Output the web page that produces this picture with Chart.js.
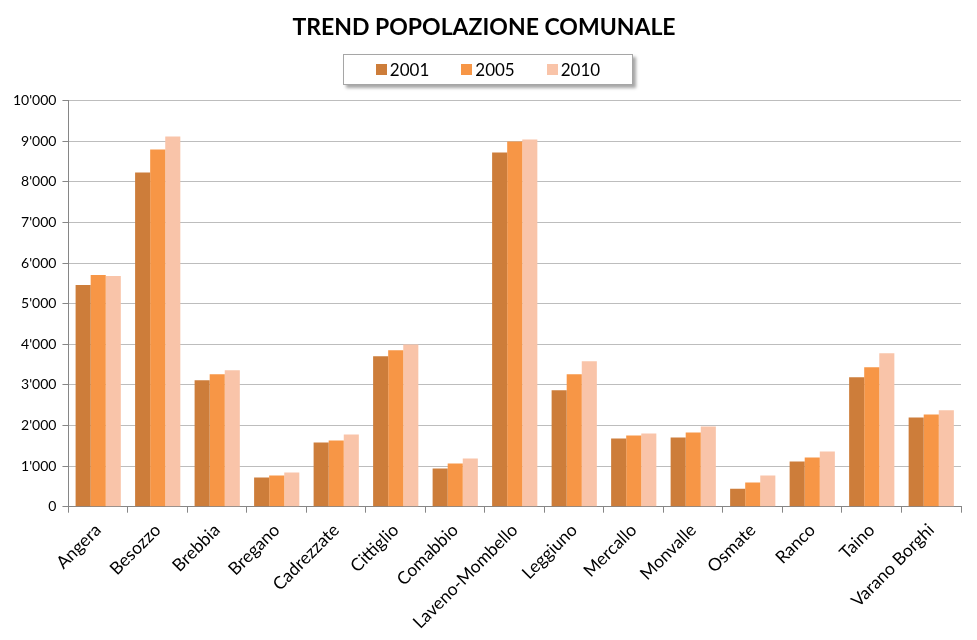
<!DOCTYPE html>
<html><head><meta charset="utf-8">
<script src="https://cdn.jsdelivr.net/npm/chart.js@4"></script>
<style>
html,body{margin:0;padding:0;background:#fff}
#wrap{position:relative;width:977px;height:640px}
#legend{position:absolute;left:343px;top:54px;width:288px;height:29px;border:1px solid #a6a6a6;background:#fff;
box-shadow:3px 3px 3px rgba(0,0,0,0.35);display:flex;align-items:center;justify-content:center;font-family:Lato,sans-serif;font-size:17px;color:#000}
.item{display:flex;align-items:center;margin:0 16px}
.sw{width:11px;height:11px;margin-right:3px}
</style>
</head><body><div id="wrap"><canvas id="c"></canvas><div id="legend"></div></div>
<script>
const categories = ['Angera','Besozzo','Brebbia','Bregano','Cadrezzate','Cittiglio','Comabbio','Laveno-Mombello','Leggiuno','Mercallo','Monvalle','Osmate','Ranco','Taino','Varano Borghi'];
const seriesNames = ['2001','2005','2010'];
const values2001 = [5461,8228,3113,717,1581,3706,939,8722,2866,1680,1705,445,1112,3187,2198];
const values2005 = [5708,8797,3262,766,1631,3855,1062,8994,3262,1754,1829,593,1211,3434,2273];
const values2010 = [5683,9118,3360,840,1779,3995,1186,9043,3583,1804,1977,766,1359,3780,2372];
const yTicks = [0,1000,2000,3000,4000,5000,6000,7000,8000,9000,10000];
const colors = ['#CD7D3A','#F79646','#F9C4A9'];

const allValues = [values2001, values2005, values2010];
const datasets = seriesNames.map((n,i)=>({label:n,data:allValues[i],backgroundColor:colors[i],borderWidth:0,
  categoryPercentage:0.76,barPercentage:1.0}));

const lg = document.getElementById('legend');
seriesNames.forEach((n,i)=>{
  const d=document.createElement('div');d.className='item';
  d.innerHTML='<span class="sw" style="background:'+colors[i]+'"></span><span>'+n+'</span>';
  lg.appendChild(d);
});

const fmt = v => { const s = String(v); return s.replace(/\B(?=(\d{3})+(?!\d))/g, "'"); };

new Chart(document.getElementById('c'), {
  type:'bar',
  data:{labels:categories,datasets},
  options:{
    responsive:true,maintainAspectRatio:false,animation:false,
    layout:{padding:{left:7,right:16,top:0,bottom:0}},
    plugins:{
      legend:{display:false},
      tooltip:{enabled:false},
      title:{display:true,text:'TREND POPOLAZIONE COMUNALE',color:'#000',
        font:{family:'Lato',size:23,weight:'bold'},padding:{top:14,bottom:59}}
    },
    scales:{
      x:{
        grid:{display:true,drawOnChartArea:false,drawTicks:true,tickLength:6,color:'#868686',offset:true},
        border:{display:true,color:'#868686',width:1},
        ticks:{color:'#000',font:{family:'Lato',size:17.5},maxRotation:45,minRotation:45,autoSkip:false,padding:7}
      },
      y:{
        min:0,max:10000,
        afterBuildTicks: s => { s.ticks = yTicks.map(v=>({value:v})); },
        grid:{color:'#BDBDBD',lineWidth:1,tickLength:6,tickColor:'#868686'},
        border:{display:true,color:'#868686',width:1},
        ticks:{color:'#000',font:{family:'Lato',size:14},padding:6,callback:v=>fmt(v)}
      }
    }
  }
});
</script>
</body></html>
